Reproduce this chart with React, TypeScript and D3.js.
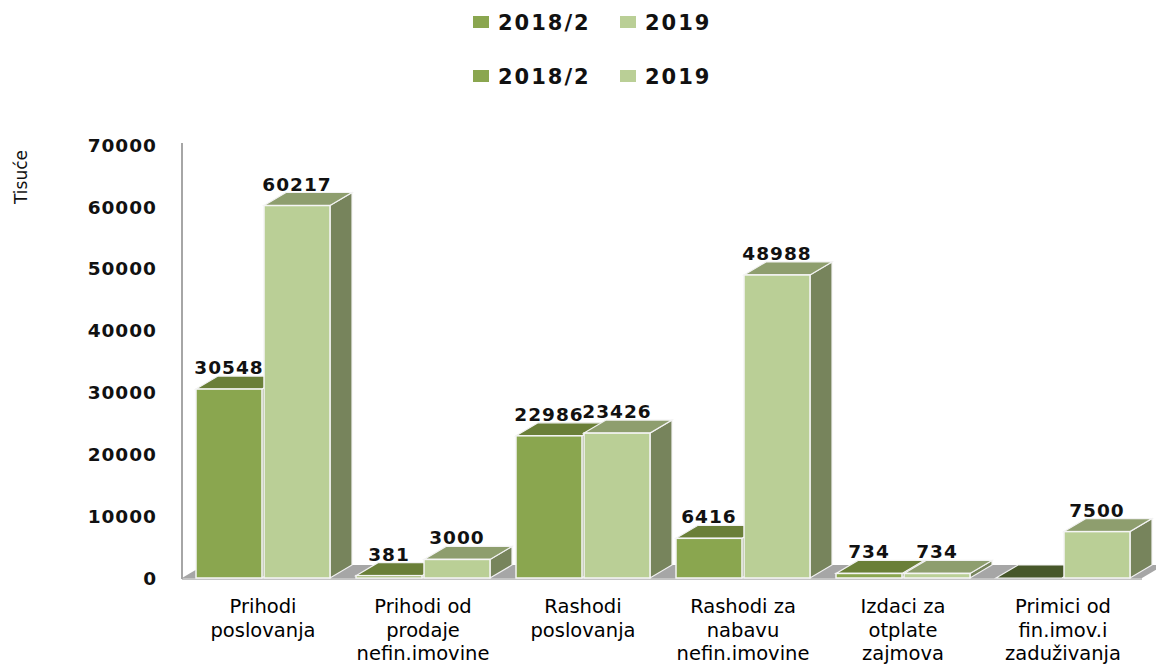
import { useEffect, useRef } from 'react';
import * as d3 from 'd3';

const categories = [
  ['Prihodi', 'poslovanja'],
  ['Prihodi od', 'prodaje', 'nefin.imovine'],
  ['Rashodi', 'poslovanja'],
  ['Rashodi za', 'nabavu', 'nefin.imovine'],
  ['Izdaci za', 'otplate', 'zajmova'],
  ['Primici od', 'fin.imov.i', 'zaduživanja'],
];
const series = ['2018/2', '2019'];
const values2018 = [30548, 381, 22986, 6416, 734, 0];
const values2019 = [60217, 3000, 23426, 48988, 734, 7500];
const yTicks = [0, 10000, 20000, 30000, 40000, 50000, 60000, 70000];

const colors = {
  '2018/2': { front: '#8aa64f', top: '#6a7f38', side: '#5c6f30', zeroTop: '#47572a' },
  '2019': { front: '#bacf96', top: '#8e9e6e', side: '#77845c', zeroTop: '#8e9e6e' },
} as Record<string, { front: string; top: string; side: string; zeroTop: string }>;

export default function App() {
  const svgRef = useRef<SVGSVGElement>(null);

  useEffect(() => {
    if (!svgRef.current) return;
    const svg = d3.select(svgRef.current);
    svg.selectAll('*').remove();

    const dx = 22;
    const dy = 13;
    const keys = categories.map((c) => c.join(' '));

    const x0 = d3.scaleBand<string>().domain(keys).range([182, 1142]).padding(0);
    const x1 = d3.scaleBand<string>().domain(series).range([14, 148]).paddingInner(0.03);
    const y = d3.scaleLinear().domain([0, 70000]).range([578, 145]);
    const y0 = y(0);

    // floor
    svg.append('polygon')
      .attr('points', [[182, y0], [1142, y0], [1142 + dx, y0 - dy], [182 + dx, y0 - dy]].join(' '))
      .attr('fill', '#a6a6a6');
    svg.append('line')
      .attr('x1', 182).attr('x2', 1142).attr('y1', y0 + 1).attr('y2', y0 + 1)
      .attr('stroke', '#c4c4c4').attr('stroke-width', 2);

    // axis
    svg.append('line')
      .attr('x1', 182).attr('x2', 182).attr('y1', 143).attr('y2', y0 + 1)
      .attr('stroke', '#a6a6a6').attr('stroke-width', 2);

    svg.append('g')
      .selectAll('text')
      .data(yTicks)
      .join('text')
      .attr('x', 157)
      .attr('y', (d) => y(d))
      .attr('dy', '0.36em')
      .attr('text-anchor', 'end')
      .attr('font-family', 'DejaVu Sans')
      .attr('font-weight', 'bold')
      .attr('font-size', 18.5)
      .attr('letter-spacing', 1)
      .attr('fill', '#111')
      .text((d) => d);

    svg.append('text')
      .attr('transform', 'translate(27,177) rotate(-90)')
      .attr('text-anchor', 'middle')
      .attr('font-family', 'DejaVu Sans')
      .attr('font-size', 17)
      .attr('fill', '#111')
      .text('Tisuće');

    // bars
    const bars = svg.append('g');
    keys.forEach((k, i) => {
      series.forEach((s) => {
        const v = s === '2018/2' ? values2018[i] : values2019[i];
        const c = colors[s];
        const x = (x0(k) ?? 0) + (x1(s) ?? 0);
        const w = x1.bandwidth();
        const yt = y(v);
        const g = bars.append('g');
        g.append('polygon')
          .attr('points', [[x + w, yt], [x + w + dx, yt - dy], [x + w + dx, y0 - dy], [x + w, y0]].join(' '))
          .attr('fill', c.side).attr('stroke', '#f2f2f2').attr('stroke-width', 1.2);
        g.append('polygon')
          .attr('points', [[x, yt], [x + dx, yt - dy], [x + w + dx, yt - dy], [x + w, yt]].join(' '))
          .attr('fill', v === 0 ? c.zeroTop : c.top).attr('stroke', '#f2f2f2').attr('stroke-width', 1.2);
        if (v > 0) {
          g.append('rect')
            .attr('x', x).attr('y', yt).attr('width', w).attr('height', y0 - yt)
            .attr('fill', c.front).attr('stroke', '#f5f5f5').attr('stroke-width', 1.5);
          g.append('text')
            .attr('x', x + w / 2)
            .attr('y', yt - 15)
            .attr('text-anchor', 'middle')
            .attr('font-family', 'DejaVu Sans')
            .attr('font-weight', 'bold')
            .attr('font-size', 18.5)
            .attr('letter-spacing', 1)
            .attr('fill', '#111')
            .text(v);
        }
      });
    });

    // category labels
    const cat = svg.append('g');
    categories.forEach((lines, i) => {
      const cx = (x0(keys[i]) ?? 0) + 81;
      lines.forEach((line, j) => {
        cat.append('text')
          .attr('x', cx)
          .attr('y', 613 + j * 23.5)
          .attr('text-anchor', 'middle')
          .attr('font-family', 'DejaVu Sans')
          .attr('font-size', 19.5)
          .attr('fill', '#000')
          .text(line);
      });
    });

    // legend (two identical rows)
    const legendX = [473, 620];
    [22, 76].forEach((ly) => {
      series.forEach((s, i) => {
        svg.append('rect')
          .attr('x', legendX[i]).attr('y', ly - 6).attr('width', 16).attr('height', 12)
          .attr('fill', colors[s].front);
        svg.append('text')
          .attr('x', legendX[i] + 25)
          .attr('y', ly)
          .attr('dy', '0.36em')
          .attr('font-family', 'DejaVu Sans')
          .attr('font-weight', 'bold')
          .attr('font-size', 21)
          .attr('letter-spacing', 2)
          .attr('fill', '#111')
          .text(s);
      });
    });
  }, []);

  return (
    <svg
      ref={svgRef}
      width={1156}
      height={666}
      style={{ position: 'absolute', left: 0, top: 0, display: 'block', background: '#fff' }}
    />
  );
}
